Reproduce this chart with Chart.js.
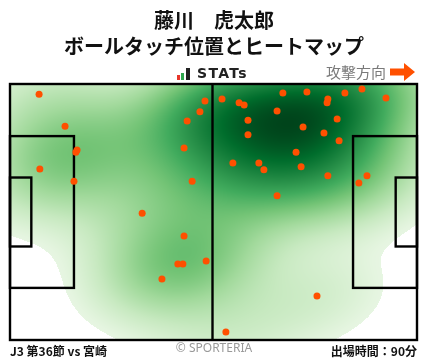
<!DOCTYPE html>
<html lang="ja">
<head>
<meta charset="utf-8">
<title>藤川 虎太郎 ボールタッチ位置とヒートマップ</title>
<script src="https://cdn.jsdelivr.net/npm/chart.js@4.4.1/dist/chart.umd.min.js"></script>
<style>
  html, body { margin: 0; padding: 0; background: #fff; }
  body {
    width: 428px; height: 359px; position: relative; overflow: hidden;
    font-family: "Noto Sans CJK JP", "Noto Sans", sans-serif; color: #111;
  }
  canvas { position: absolute; left: 0; top: 0; }
  .abs { position: absolute; white-space: nowrap; }
  .title { left: 0; width: 428px; text-align: center; font-weight: bold; font-size: 20px; line-height: 24px; }
  .stats { left: 197px; top: 63px; font-family: "DejaVu Sans", sans-serif; font-weight: bold; font-size: 14px; line-height: 20px; letter-spacing: 1.3px; color: #222; }
  .bar { position: absolute; bottom: 0; width: 3px; }
  .dir { left: 326px; top: 61px; font-size: 15px; line-height: 22px; color: #7a7a7a; }
  .foot { top: 342px; font-weight: bold; font-size: 12px; line-height: 17px; }
  .copy { left: 0; width: 428px; text-align: center; top: 340px; font-size: 12px; line-height: 16px; color: #999; font-family: "Noto Sans", sans-serif; }
</style>
</head>
<body>
<canvas id="heatChart" width="428" height="359"></canvas>

<div class="abs title" style="top:8px">藤川　虎太郎</div>
<div class="abs title" style="top:34px">ボールタッチ位置とヒートマップ</div>

<div class="abs" style="left:177px; top:68px; width:14px; height:12px;">
  <div class="bar" style="left:0; height:5px; background:#e8352a;"></div>
  <div class="bar" style="left:4px; height:7px; background:#2fa84f;"></div>
  <div class="bar" style="left:9px; width:4px; height:12px; background:#222;"></div>
</div>
<div class="abs stats">STATs</div>

<div class="abs dir">攻撃方向</div>
<svg class="abs" style="left:390px; top:63px" width="26" height="18" viewBox="0 0 26 18">
  <polygon points="0,5.5 14,5.5 14,0 25,9 14,18 14,12.5 0,12.5" fill="#ff5000"/>
</svg>

<div class="abs foot" style="left:10px">J3 第36節 vs 宮崎</div>
<div class="abs copy">© SPORTERIA</div>
<div class="abs foot" style="right:11px">出場時間：90分</div>

<script>
// ball touches, metres on a 105 x 68 pitch (y measured from the top touchline)
const touchX = [7.5, 14.2, 17.3, 17.0, 7.7, 16.5, 34.1, 44.9, 45.7, 49.0,
                50.3, 47.0, 44.9, 43.3, 44.6, 50.6, 39.2, 54.7, 59.1, 60.4,
                70.4, 76.6, 82.0, 81.8, 86.4, 90.8, 97.0, 68.9, 61.4, 84.4,
                75.6, 61.4, 81.0, 84.9, 73.8, 57.5, 64.2, 65.5, 75.1, 82.0,
                92.1, 90.0, 68.9, 79.2, 55.7];
const touchY = [2.7, 11.2, 17.5, 18.1, 22.6, 25.8, 34.3, 17.0, 9.8, 7.4,
                4.5, 25.8, 40.4, 47.8, 47.8, 47.0, 51.8, 4.0, 5.0, 5.6,
                2.4, 2.1, 4.0, 5.0, 2.4, 1.3, 3.7, 7.2, 9.6, 9.3,
                11.4, 13.5, 13.0, 15.1, 18.1, 21.0, 21.0, 22.8, 22.0, 24.4,
                24.4, 26.3, 29.7, 56.3, 65.9];

const PITCH_L = 105;
const PITCH_W = 68;
const BW_ADJUST = 1.05;
const GAMMA = 0.65;
const WHITE_BELOW = 0.035;

// matplotlib "Greens"
const greens = ['#f7fcf5', '#e5f5e0', '#c7e9c0', '#a1d99b', '#74c476',
                '#41ab5d', '#238b45', '#006d2c', '#00441b'].map(h => [
  parseInt(h.slice(1, 3), 16), parseInt(h.slice(3, 5), 16), parseInt(h.slice(5, 7), 16)
]);

function greenAt(t) {
  t = Math.max(0, Math.min(1, t)) * (greens.length - 1);
  const i = Math.min(greens.length - 2, Math.floor(t));
  const f = t - i;
  return greens[i].map((c, k) => Math.round(c + (greens[i + 1][k] - c) * f));
}

// gaussian KDE, Scott's rule with full covariance (like scipy / seaborn)
function makeKde(xs, ys) {
  const n = xs.length;
  const mx = xs.reduce((a, b) => a + b) / n;
  const my = ys.reduce((a, b) => a + b) / n;
  let sxx = 0, syy = 0, sxy = 0;
  for (let i = 0; i < n; i++) {
    sxx += (xs[i] - mx) ** 2;
    syy += (ys[i] - my) ** 2;
    sxy += (xs[i] - mx) * (ys[i] - my);
  }
  const f2 = Math.pow(n, -2 / 6) * BW_ADJUST * BW_ADJUST;
  const a = sxx / (n - 1) * f2, d = syy / (n - 1) * f2, b = sxy / (n - 1) * f2;
  const det = a * d - b * b;
  const ia = d / det, id = a / det, ib = -b / det;
  return (px, py) => {
    let s = 0;
    for (let i = 0; i < n; i++) {
      const dx = px - xs[i], dy = py - ys[i];
      s += Math.exp(-0.5 * (ia * dx * dx + 2 * ib * dx * dy + id * dy * dy));
    }
    return s;
  };
}

let heatCanvas = null;

function buildHeat(chart) {
  const area = chart.chartArea;
  const sx = chart.scales.x, sy = chart.scales.y;
  const dens = makeKde(touchX, touchY);
  const w = Math.round(area.right - area.left);
  const h = Math.round(area.bottom - area.top);
  const vals = new Float64Array(w * h);
  let max = 0;
  for (let j = 0; j < h; j++) {
    const vy = sy.getValueForPixel(area.top + j + 0.5);
    for (let i = 0; i < w; i++) {
      const v = dens(sx.getValueForPixel(area.left + i + 0.5), vy);
      vals[j * w + i] = v;
      if (v > max) max = v;
    }
  }
  const c = document.createElement('canvas');
  c.width = w; c.height = h;
  const cctx = c.getContext('2d');
  const img = cctx.createImageData(w, h);
  for (let k = 0; k < w * h; k++) {
    const t = vals[k] / max;
    const rgb = t >= WHITE_BELOW ? greenAt(Math.pow(t, GAMMA)) : [255, 255, 255];
    img.data[k * 4] = rgb[0];
    img.data[k * 4 + 1] = rgb[1];
    img.data[k * 4 + 2] = rgb[2];
    img.data[k * 4 + 3] = 255;
  }
  cctx.putImageData(img, 0, 0);
  return c;
}

const pitchPlugin = {
  id: 'pitch',
  beforeDatasetsDraw(chart) {
    const { ctx, chartArea: area, scales: { x, y } } = chart;
    if (!heatCanvas) heatCanvas = buildHeat(chart);
    ctx.drawImage(heatCanvas, area.left, area.top);

    ctx.save();
    ctx.strokeStyle = '#000';
    ctx.lineWidth = 2.4;
    const box = (x0, y0, x1, y1) => {
      const px0 = x.getPixelForValue(x0), px1 = x.getPixelForValue(x1);
      const py0 = y.getPixelForValue(y0), py1 = y.getPixelForValue(y1);
      ctx.strokeRect(px0, py0, px1 - px0, py1 - py0);
    };
    box(0, 0, PITCH_L, PITCH_W);
    box(0, PITCH_W / 2 - 20.16, 16.5, PITCH_W / 2 + 20.16);
    box(PITCH_L - 16.5, PITCH_W / 2 - 20.16, PITCH_L, PITCH_W / 2 + 20.16);
    box(0, PITCH_W / 2 - 9.16, 5.5, PITCH_W / 2 + 9.16);
    box(PITCH_L - 5.5, PITCH_W / 2 - 9.16, PITCH_L, PITCH_W / 2 + 9.16);
    const mx = x.getPixelForValue(PITCH_L / 2) - 1;
    ctx.beginPath();
    ctx.moveTo(mx, y.getPixelForValue(0));
    ctx.lineTo(mx, y.getPixelForValue(PITCH_W));
    ctx.stroke();
    ctx.restore();
  }
};

new Chart(document.getElementById('heatChart'), {
  type: 'scatter',
  data: {
    datasets: [{
      label: 'ボールタッチ',
      data: touchX.map((v, i) => ({ x: v, y: touchY[i] })),
      backgroundColor: '#ff5000',
      borderWidth: 0,
      pointRadius: 3.5
    }]
  },
  options: {
    responsive: false,
    devicePixelRatio: 1,
    animation: false,
    layout: { padding: { left: 10, top: 84, right: 11, bottom: 19 } },
    scales: {
      x: { display: false, min: 0, max: PITCH_L },
      y: { display: false, min: 0, max: PITCH_W, reverse: true }
    },
    plugins: {
      legend: { display: false },
      tooltip: { enabled: false }
    }
  },
  plugins: [pitchPlugin]
});
</script>
</body>
</html>
